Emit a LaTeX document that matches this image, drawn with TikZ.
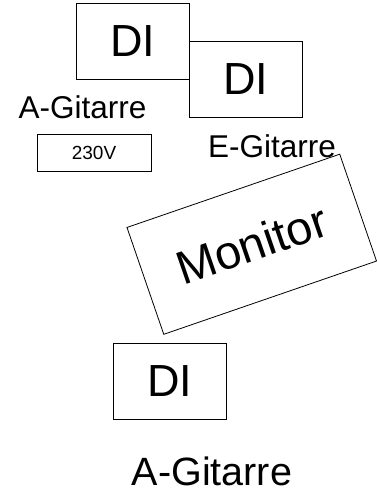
\documentclass[tikz,border=0pt]{standalone}
\usepackage{fontspec}
\setmainfont{Liberation Sans}
\usetikzlibrary{positioning}

\begin{document}
\begin{tikzpicture}[x=1pt,y=-1pt,
    dibox/.style={draw, line width=0.8pt, inner sep=0pt, minimum width=113pt, minimum height=76pt, font=\fontsize{45}{45}\selectfont},
    netzbox/.style={draw, line width=0.8pt, inner sep=0pt, minimum width=114pt, minimum height=37pt, font=\fontsize{19}{19}\selectfont},
    gitlabel/.style={inner sep=0pt, anchor=base}]

\useasboundingbox (0,0) rectangle (377,492);

% DI Boxen oben
\node[dibox] (di1) at (132.5,41) {DI};
\node[dibox] (di2) at (245.5,79.5) {DI};

% Labels
\node[gitlabel, font=\fontsize{31.5}{31.5}\selectfont] (agit) at (82.5,118) {A-Gitarre};
\node[gitlabel, font=\fontsize{31.5}{31.5}\selectfont] (egit) at (272,157) {E-Gitarre};

% Strom
\node[netzbox] (netz) at (94,153) {230V};

% Monitor, schraeg gestellt
\node[draw, line width=0.8pt, minimum width=225pt, minimum height=113pt, rotate=19,
      font=\fontsize{47}{47}\selectfont] (monitor) at (251.75,244.25) {Monitor};

% DI Box unten
\node[dibox] (di3) at (170,381) {DI};
\node[gitlabel, font=\fontsize{39.5}{39.5}\selectfont] (agit2) at (212,485) {A-Gitarre};

\end{tikzpicture}
\end{document}
